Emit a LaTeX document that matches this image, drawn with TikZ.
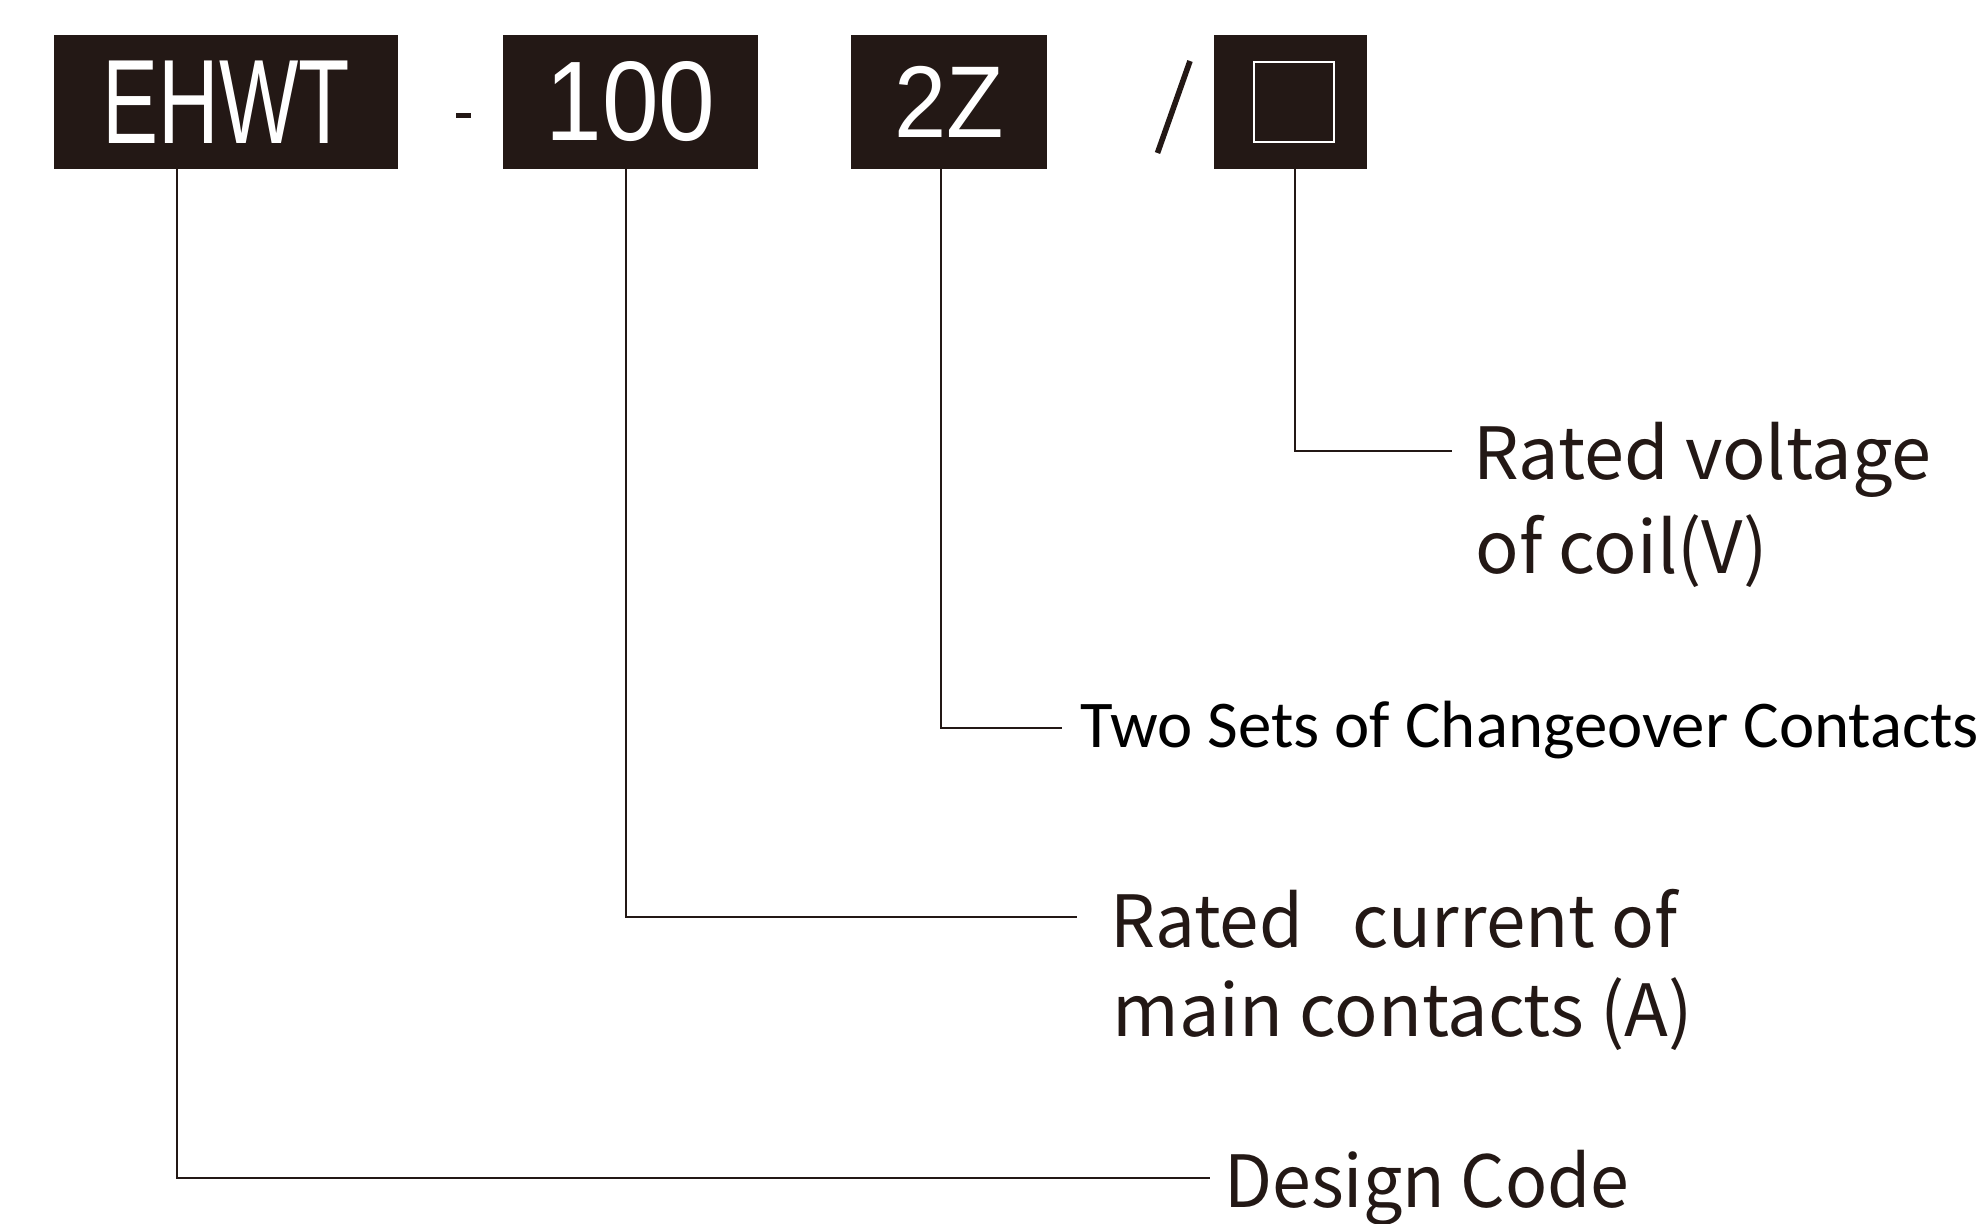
\documentclass[tikz,border=0pt]{standalone}
\usepackage{fontspec}
\usepackage{graphicx}
\newfontfamily\lblfont{Noto Sans CJK SC}
\newfontfamily\boxfont{Liberation Sans}
\newfontfamily\myrfont{Carlito}
\definecolor{ink}{HTML}{231815}
\begin{document}
\begin{tikzpicture}[x=0.5pt,y=-0.5pt,
  codebox/.style={fill=ink,inner sep=0pt,minimum height=67pt,text=white},
  leader/.style={draw=ink,line width=0.7pt},
  lbl/.style={anchor=base west,inner sep=0pt,text=ink,font=\lblfont\fontsize{36}{36}\selectfont},
  lblb/.style={anchor=base west,inner sep=0pt,text=black,font=\myrfont\fontsize{33.4}{33.4}\selectfont}]
\fill[white] (0,0) rectangle (1981,1224);
\useasboundingbox (0,0) rectangle (1981,1224);
% code boxes
\node[codebox,minimum width=172pt] (ehwt) at (226,102)
  {\scalebox{0.7}[1]{\boxfont\fontsize{60}{60}\selectfont EHWT}};
\node[codebox,minimum width=127.5pt] (n100) at (630.5,102)
  {\scalebox{0.9}[1]{\boxfont\fontsize{56.6}{56.6}\selectfont 100}};
\node[codebox,minimum width=98pt] (n2z) at (949,102)
  {\scalebox{0.92}[1]{\boxfont\fontsize{51}{51}\selectfont 2Z}};
\node[codebox,minimum width=76.5pt] (sq) at (1290.5,102) {};
\node[draw=white,line width=1pt,minimum size=40pt,inner sep=0pt] (sqin) at (1294,102) {};
% separators
\fill[ink] (456,113) rectangle (471,118);
\draw[ink,line width=2.8pt] (1157.5,153) -- (1190,61);
% labels
\node[lbl] (volt1) at (1473,480) {Rated voltage};
\node[lbl] (volt2) at (1475,574) {of coil(V)};
\node[lblb] (twosets) at (1080,747) {Two Sets of Changeover Contacts};
\node[lbl] (cur1) at (1110,947) {\scalebox{0.985}[1]{Rated\hspace*{0.7em}current of}};
\node[lbl] (cur2) at (1112,1036) {main contacts (A)};
\node[lbl] (design) at (1224,1207) {\scalebox{0.97}[1]{Design Code}};
% leader ends
\coordinate (eVolt) at (1452,451);
\coordinate (eTwo) at (1062,728);
\coordinate (eCur) at (1077,917);
\coordinate (eDes) at (1210,1178);
% leaders
\draw[leader] ([xshift=2.25pt]sq.south) |- (eVolt);
\draw[leader] ([xshift=-4pt]n2z.south) |- (eTwo);
\draw[leader] ([xshift=-2.25pt]n100.south) |- (eCur);
\draw[leader] ([xshift=-24.5pt]ehwt.south) |- (eDes);
\end{tikzpicture}
\end{document}
